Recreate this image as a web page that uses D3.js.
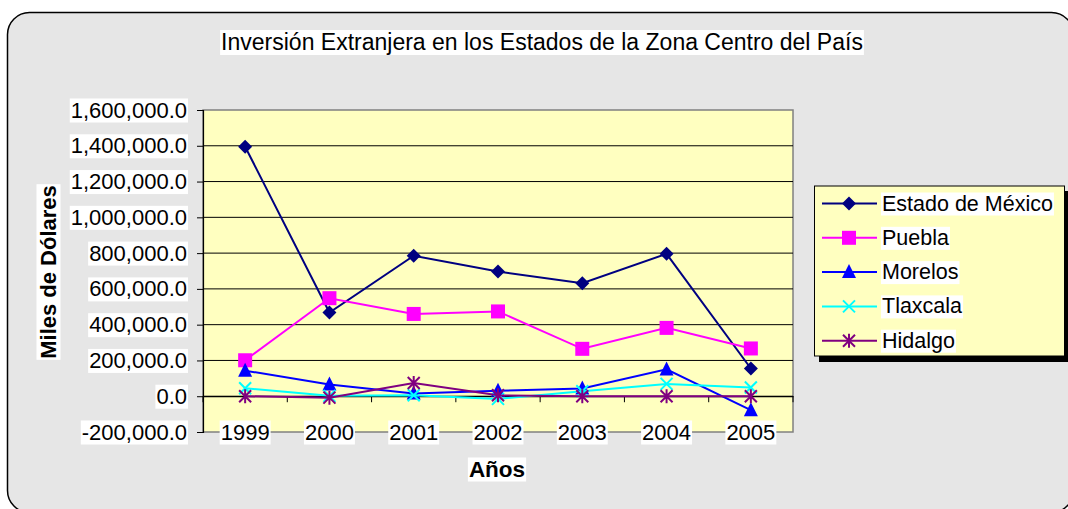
<!DOCTYPE html>
<html><head><meta charset="utf-8">
<script src="https://cdn.jsdelivr.net/npm/d3@7"></script>
<style>body{margin:0;background:#fff}svg{display:block}text{font-family:"Liberation Sans",Arial,sans-serif}</style>
</head><body>
<svg id="c" width="1068" height="509"></svg>
<script>
const years = ["1999","2000","2001","2002","2003","2004","2005"];
const seriesNames = ["Estado de México","Puebla","Morelos","Tlaxcala","Hidalgo"];
const edoMexico = [1395000, 468000, 785000, 697000, 632000, 796000, 155000];
const puebla    = [201000, 548000, 460000, 474000, 265000, 382000, 267000];
const morelos   = [143000, 66000, 15000, 30000, 43000, 150000, -78000];
const tlaxcala  = [45000, 2000, 5000, -15000, 28000, 69000, 49000];
const hidalgo   = [0, -8000, 74000, 5000, 0, 0, 0];
const yTicks = [-200000,0,200000,400000,600000,800000,1000000,1200000,1400000,1600000];
const seriesColors = ["#000080","#ff00ff","#0000ff","#00ffff","#800080"];
const seriesMarkers = ["diamond","square","triangle","x","star"];
const allSeries = [edoMexico, puebla, morelos, tlaxcala, hidalgo];

const svg = d3.select("#c");
const fmt = d3.formatLocale({decimal:".", thousands:",", grouping:[3], currency:["$",""], minus:"-"}).format(",.1f");

// outer background
svg.append("rect").attr("x",7.5).attr("y",12.5).attr("width",1066).attr("height",500)
  .attr("rx",22).attr("ry",22).attr("fill","#e6e6e6").attr("stroke","#000").attr("stroke-width",1.5);

const x = d3.scaleBand().domain(years).range([203,793]).paddingInner(0).paddingOuter(0);
const y = d3.scaleLinear().domain([-200000,1600000]).range([432,110]);

// plot area
svg.append("rect").attr("x",203).attr("y",110).attr("width",590).attr("height",322)
  .attr("fill","#ffffc0").attr("stroke","#808080").attr("stroke-width",1.5);

// gridlines
svg.append("g").selectAll("line").data(yTicks.filter(t=>t>-200000 && t<1600000)).join("line")
  .attr("x1",203).attr("x2",793).attr("y1",d=>y(d)).attr("y2",d=>y(d))
  .attr("stroke","#000").attr("stroke-width",1);

function bgText(g, txt, xx, yy, anchor, size, weight, rotate) {
  const grp = g.append("g").attr("transform", `translate(${xx},${yy})` + (rotate ? ` rotate(${rotate})` : ""));
  const r = grp.append("rect").attr("fill","#fff");
  const t = grp.append("text").text(txt).attr("text-anchor",anchor).attr("dominant-baseline","central")
    .attr("font-size",size).attr("font-weight",weight||"normal").attr("fill","#000");
  const b = t.node().getBBox();
  r.attr("x",b.x-1).attr("y",b.y+1).attr("width",b.width+2).attr("height",b.height-1);
  return grp;
}

// y axis
const yAxis = d3.axisLeft(y).tickValues(yTicks).tickSize(6).tickFormat(fmt);
const gy = svg.append("g").attr("transform","translate(203,0)").call(yAxis);
gy.select(".domain").attr("stroke","#000").attr("stroke-width",1.2);
gy.selectAll(".tick line").attr("stroke","#000");
gy.selectAll(".tick text").remove();
yTicks.forEach(t => bgText(svg, fmt(t), 187, y(t), "end", 22));

// x axis at zero
const xAxis = d3.axisBottom(x).tickSize(0).tickFormat("");
const gx = svg.append("g").attr("transform",`translate(0,${y(0)})`).call(xAxis);
gx.select(".domain").attr("stroke","#000").attr("stroke-width",1.2);
const bounds = years.map(d=>x(d)).concat([x(years[years.length-1])+x.bandwidth()]);
svg.append("g").selectAll("line").data(bounds).join("line")
  .attr("x1",d=>d).attr("x2",d=>d).attr("y1",y(0)).attr("y2",y(0)+6).attr("stroke","#000");
years.forEach(yr => bgText(svg, yr, x(yr)+x.bandwidth()/2, 432, "middle", 22));

// titles
bgText(svg, "Inversión Extranjera en los Estados de la Zona Centro del País", 542, 42, "middle", 23);
bgText(svg, "Miles de Dólares", 48, 272, "middle", 22, "bold", -90);
bgText(svg, "Años", 497, 469, "middle", 22.5, "bold");

// markers
function marker(g, type, color, cx, cy) {
  if (type === "diamond") {
    g.append("path").attr("d",`M${cx},${cy-7}L${cx+7},${cy}L${cx},${cy+7}L${cx-7},${cy}Z`).attr("fill",color);
  } else if (type === "square") {
    g.append("rect").attr("x",cx-7).attr("y",cy-7).attr("width",14).attr("height",14).attr("fill",color);
  } else if (type === "triangle") {
    g.append("path").attr("d",`M${cx},${cy-8}L${cx+7},${cy+6}L${cx-7},${cy+6}Z`).attr("fill",color);
  } else if (type === "x") {
    g.append("path").attr("d",`M${cx-6},${cy-6}L${cx+6},${cy+6}M${cx+6},${cy-6}L${cx-6},${cy+6}`)
      .attr("stroke",color).attr("stroke-width",2).attr("fill","none");
  } else if (type === "star") {
    g.append("path").attr("d",`M${cx-6},${cy-6}L${cx+6},${cy+6}M${cx+6},${cy-6}L${cx-6},${cy+6}M${cx},${cy-7}L${cx},${cy+7}`)
      .attr("stroke",color).attr("stroke-width",2).attr("fill","none");
  }
}

const line = d3.line().x((d,i)=>x(years[i])+x.bandwidth()/2).y(d=>y(d));
allSeries.forEach((vals, si) => {
  const g = svg.append("g");
  g.append("path").attr("d", line(vals)).attr("fill","none").attr("stroke",seriesColors[si]).attr("stroke-width",2);
  vals.forEach((v,i)=>marker(g, seriesMarkers[si], seriesColors[si], x(years[i])+x.bandwidth()/2, y(v)));
});

// legend
const lg = svg.append("g");
lg.append("rect").attr("x",819).attr("y",191).attr("width",251).attr("height",171).attr("fill","#000");
lg.append("rect").attr("x",814.5).attr("y",186).attr("width",250).attr("height",170)
  .attr("fill","#ffffc0").attr("stroke","#000").attr("stroke-width",1);
seriesNames.forEach((name, i) => {
  const ly = 203.5 + i*34.3;
  lg.append("line").attr("x1",822).attr("x2",877).attr("y1",ly).attr("y2",ly)
    .attr("stroke",seriesColors[i]).attr("stroke-width",2);
  marker(lg, seriesMarkers[i], seriesColors[i], 849, ly);
  bgText(lg, name, 882, ly, "start", 21.5);
});
</script>
</body></html>
